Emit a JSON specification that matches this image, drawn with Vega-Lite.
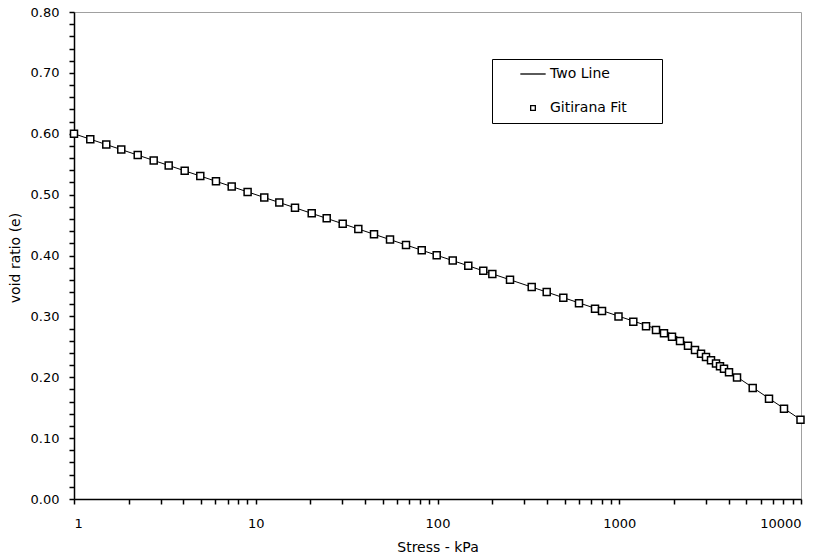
{
  "$schema": "https://vega.github.io/schema/vega-lite/v6.json",
  "width": 727,
  "height": 487,
  "autosize": "none",
  "padding": {"left": 74, "top": 12, "right": 23, "bottom": 60},
  "background": "white",
  "config": {
    "view": {"stroke": "#a0a0a0", "strokeWidth": 1},
    "axis": {
      "grid": false,
      "domainColor": "black",
      "domainWidth": 1.5,
      "tickColor": "black",
      "tickWidth": 1.5,
      "tickSize": 5,
      "labelColor": "black",
      "labelFont": "DejaVu Sans",
      "labelFontSize": 13,
      "titleColor": "black",
      "titleFont": "DejaVu Sans",
      "titleFontSize": 14,
      "titleFontWeight": "normal",
      "labelOverlap": false,
      "labelBound": false
    }
  },
  "datasets": {
    "twoLine": [
      {"stress": 1, "e": 0.60},
      {"stress": 1995, "e": 0.27},
      {"stress": 10000, "e": 0.13}
    ],
    "gitirana": [
      {"series": "Gitirana Fit", "stress": 1, "e": 0.600},
      {"series": "Gitirana Fit", "stress": 1.229, "e": 0.5910},
      {"series": "Gitirana Fit", "stress": 1.505, "e": 0.5822},
      {"series": "Gitirana Fit", "stress": 1.820, "e": 0.5740},
      {"series": "Gitirana Fit", "stress": 2.242, "e": 0.5650},
      {"series": "Gitirana Fit", "stress": 2.745, "e": 0.5561},
      {"series": "Gitirana Fit", "stress": 3.319, "e": 0.5479},
      {"series": "Gitirana Fit", "stress": 4.065, "e": 0.5391},
      {"series": "Gitirana Fit", "stress": 4.953, "e": 0.5305},
      {"series": "Gitirana Fit", "stress": 6.042, "e": 0.5219},
      {"series": "Gitirana Fit", "stress": 7.374, "e": 0.5132},
      {"series": "Gitirana Fit", "stress": 9.020, "e": 0.5045},
      {"series": "Gitirana Fit", "stress": 11.14, "e": 0.4953},
      {"series": "Gitirana Fit", "stress": 13.48, "e": 0.4870},
      {"series": "Gitirana Fit", "stress": 16.44, "e": 0.4784},
      {"series": "Gitirana Fit", "stress": 20.32, "e": 0.4692},
      {"series": "Gitirana Fit", "stress": 24.57, "e": 0.4610},
      {"series": "Gitirana Fit", "stress": 30.09, "e": 0.4522},
      {"series": "Gitirana Fit", "stress": 36.67, "e": 0.4436},
      {"series": "Gitirana Fit", "stress": 44.74, "e": 0.4349},
      {"series": "Gitirana Fit", "stress": 54.80, "e": 0.4261},
      {"series": "Gitirana Fit", "stress": 67.10, "e": 0.4173},
      {"series": "Gitirana Fit", "stress": 81.89, "e": 0.4087},
      {"series": "Gitirana Fit", "stress": 99.0, "e": 0.4004},
      {"series": "Gitirana Fit", "stress": 121.3, "e": 0.3916},
      {"series": "Gitirana Fit", "stress": 147.7, "e": 0.3830},
      {"series": "Gitirana Fit", "stress": 178.6, "e": 0.3748},
      {"series": "Gitirana Fit", "stress": 200.3, "e": 0.3698},
      {"series": "Gitirana Fit", "stress": 250.6, "e": 0.3601},
      {"series": "Gitirana Fit", "stress": 329.9, "e": 0.3482},
      {"series": "Gitirana Fit", "stress": 398.9, "e": 0.3399},
      {"series": "Gitirana Fit", "stress": 492.3, "e": 0.3308},
      {"series": "Gitirana Fit", "stress": 600.5, "e": 0.3217},
      {"series": "Gitirana Fit", "stress": 735.6, "e": 0.3127},
      {"series": "Gitirana Fit", "stress": 803.9, "e": 0.3089},
      {"series": "Gitirana Fit", "stress": 990.6, "e": 0.2996},
      {"series": "Gitirana Fit", "stress": 1195, "e": 0.2912},
      {"series": "Gitirana Fit", "stress": 1404, "e": 0.2838},
      {"series": "Gitirana Fit", "stress": 1593, "e": 0.2777},
      {"series": "Gitirana Fit", "stress": 1763, "e": 0.2724},
      {"series": "Gitirana Fit", "stress": 1951, "e": 0.2665},
      {"series": "Gitirana Fit", "stress": 2159, "e": 0.2595},
      {"series": "Gitirana Fit", "stress": 2389, "e": 0.2519},
      {"series": "Gitirana Fit", "stress": 2611, "e": 0.2448},
      {"series": "Gitirana Fit", "stress": 2818, "e": 0.2385},
      {"series": "Gitirana Fit", "stress": 3001, "e": 0.2332},
      {"series": "Gitirana Fit", "stress": 3198, "e": 0.2278},
      {"series": "Gitirana Fit", "stress": 3407, "e": 0.2225},
      {"series": "Gitirana Fit", "stress": 3584, "e": 0.2181},
      {"series": "Gitirana Fit", "stress": 3770, "e": 0.2138},
      {"series": "Gitirana Fit", "stress": 4017, "e": 0.2084},
      {"series": "Gitirana Fit", "stress": 4446, "e": 0.1997},
      {"series": "Gitirana Fit", "stress": 5424, "e": 0.1825},
      {"series": "Gitirana Fit", "stress": 6667, "e": 0.1647},
      {"series": "Gitirana Fit", "stress": 8063, "e": 0.1483},
      {"series": "Gitirana Fit", "stress": 9936, "e": 0.1302}
    ]
  },
  "encoding": {
    "x": {
      "field": "stress",
      "type": "quantitative",
      "scale": {"type": "log", "domain": [1, 10000], "nice": false},
      "axis": {
        "title": "Stress - kPa",
        "values": [1, 2, 3, 4, 5, 6, 7, 8, 9, 10, 20, 30, 40, 50, 60, 70, 80, 90, 100, 200, 300, 400, 500, 600, 700, 800, 900, 1000, 2000, 3000, 4000, 5000, 6000, 7000, 8000, 9000, 10000],
        "labelExpr": "indexof([1, 10, 100, 1000, 10000], datum.value) >= 0 ? format(datum.value, 'd') : ''",
        "labelPadding": 13,
        "titleX": 363.5,
        "titleY": 48,
        "titleAlign": "center",
        "titleBaseline": "middle"
      }
    },
    "y": {
      "field": "e",
      "type": "quantitative",
      "scale": {"domain": [0, 0.8], "nice": false, "zero": false},
      "axis": {
        "title": "void ratio (e)",
        "values": [0, 0.02, 0.04, 0.06, 0.08, 0.1, 0.12, 0.14, 0.16, 0.18, 0.2, 0.22, 0.24, 0.26, 0.28, 0.3, 0.32, 0.34, 0.36, 0.38, 0.4, 0.42, 0.44, 0.46, 0.48, 0.5, 0.52, 0.54, 0.56, 0.58, 0.6, 0.62, 0.64, 0.66, 0.68, 0.7, 0.72, 0.74, 0.76, 0.78, 0.8],
        "labelExpr": "abs(datum.value * 10 - round(datum.value * 10)) < 0.001 ? format(datum.value, '.2f') : ''",
        "labelPadding": 10,
        "titleX": -59,
        "titleY": 245.5,
        "titleAngle": -90,
        "titleAlign": "center",
        "titleBaseline": "middle"
      }
    }
  },
  "layer": [
    {
      "data": {"name": "twoLine"},
      "mark": {"type": "line", "color": "black", "strokeWidth": 1}
    },
    {
      "data": {"name": "gitirana"},
      "mark": {"type": "point", "filled": true, "fill": "white", "stroke": "black", "strokeWidth": 1.5, "size": 49, "opacity": 1},
      "encoding": {
        "shape": {
          "field": "series",
          "type": "nominal",
          "scale": {"domain": ["Two Line", "Gitirana Fit"], "range": ["M-5.4,0H5.4", "square"]},
          "legend": {
            "title": " ",
            "titleOrient": "right",
            "titleFontSize": 1,
            "titlePadding": 27,
            "orient": "none",
            "legendX": 418,
            "legendY": 47,
            "direction": "vertical",
            "padding": 8,
            "strokeColor": "black",
            "fillColor": "white",
            "symbolSize": 22,
            "symbolStrokeWidth": 1.3,
            "symbolOffset": 26,
            "labelOffset": 10,
            "rowPadding": 20,
            "labelFont": "DejaVu Sans",
            "labelFontSize": 14,
            "labelColor": "black",
            "labelLimit": 300,
            "encode": {
              "legend": {"update": {"strokeWidth": {"value": 1.5}}},
              "symbols": {"update": {"stroke": {"value": "black"}, "fill": {"value": "white"}, "opacity": {"value": 1}}}
            }
          }
        }
      }
    }
  ]
}
